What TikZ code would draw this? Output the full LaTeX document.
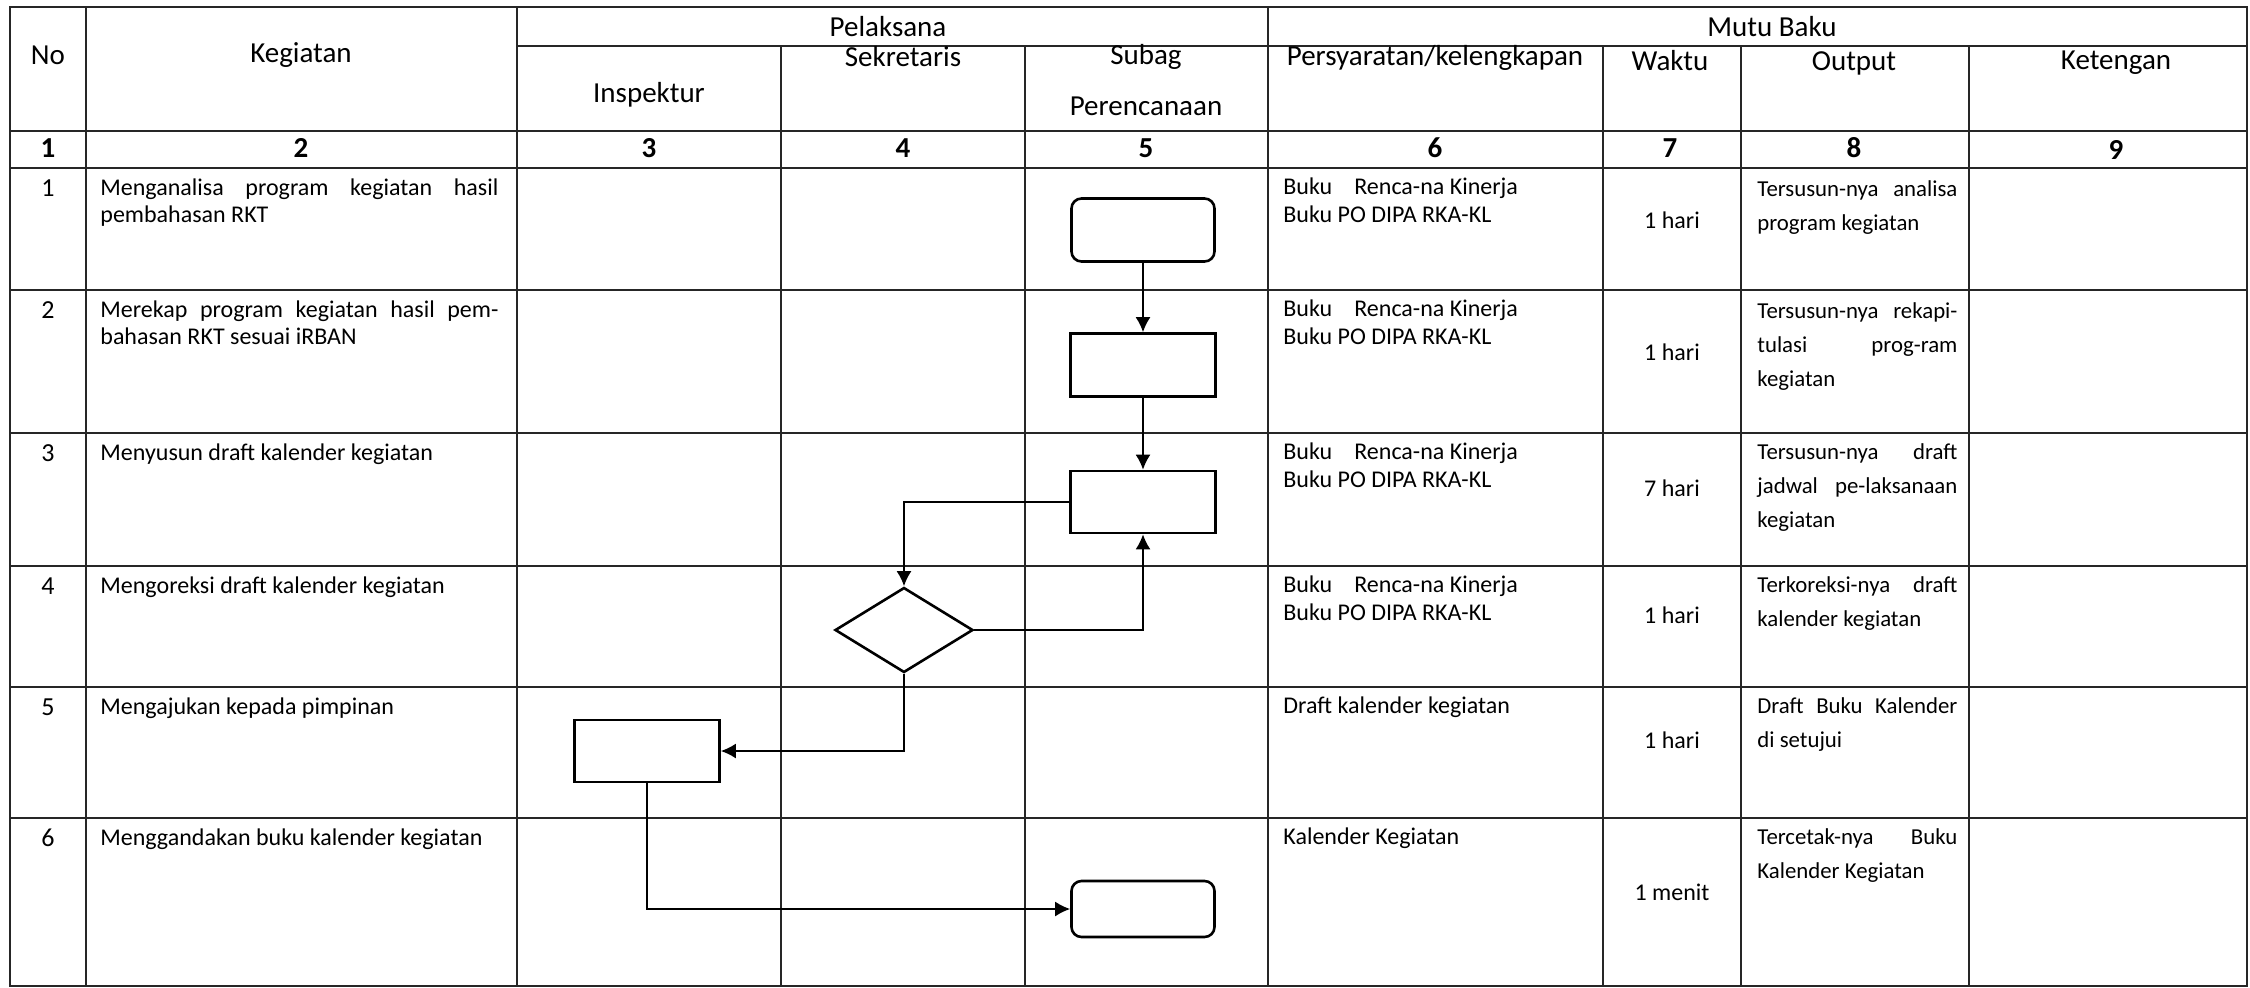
\documentclass[tikz,border=0pt]{standalone}
\usepackage{fontspec}
\setmainfont{Carlito}
\usetikzlibrary{shapes.geometric,arrows.meta}
\begin{document}
\begin{tikzpicture}[x=0.5pt,y=-0.5pt,
  grid/.style={line width=0.8pt, draw=black!85},
  hdr/.style={font=\fontsize{14.5}{17}\selectfont, inner sep=0},
  numb/.style={font=\fontsize{14.5}{17}\selectfont\bfseries, inner sep=0},
  rown/.style={font=\fontsize{13}{15}\selectfont, inner sep=0, anchor=base},
  keg/.style={font=\fontsize{12}{13.5}\selectfont, inner sep=0, anchor=base west},
  req/.style={font=\fontsize{12}{14.3}\selectfont, inner sep=0, anchor=base west},
  outp/.style={font=\fontsize{11.4}{17}\selectfont, inner sep=0, anchor=base west},
  wkt/.style={font=\fontsize{12}{13.5}\selectfont, inner sep=0},
  procbox/.style={draw, line width=1.3pt, minimum width=72.5pt, minimum height=31.5pt, inner sep=0},
  termbox/.style={draw, line width=1.3pt, rounded corners=5pt, minimum width=71.5pt, inner sep=0},
  decbox/.style={draw, line width=1.3pt, diamond, minimum width=69pt, minimum height=42.5pt, inner sep=0},
  flow/.style={line width=1pt, -{Latex[length=7.5pt,width=7.5pt]}}
]
\useasboundingbox[fill=white] (0,0) rectangle (2250,987);

% ---- table grid ----
\draw[grid] (10,7) rectangle (2247,986);
\foreach \x in {86,517,1268} \draw[grid] (\x,7) -- (\x,986);
\foreach \x in {781,1025,1603,1741,1969} \draw[grid] (\x,46) -- (\x,986);
\draw[grid] (517,46) -- (2247,46);
\foreach \y in {131,168,290,433,566,687,818} \draw[grid] (10,\y) -- (2247,\y);

% ---- header ----
\node[hdr] (hNo) at (48,55) {No};
\node[hdr] (hKeg) at (301,55) {Kegiatan};
\node[hdr] (hPel) at (888,27) {Pelaksana};
\node[hdr] (hMutu) at (1772,27) {Mutu Baku};
\node[hdr] (hIns) at (649,95) {Inspektur};
\node[hdr] (hSek) at (903,57) {Sekretaris};
\node[hdr] (hSub) at (1146,57) {Subag};
\node[hdr] (hPer) at (1146,106) {Perencanaan};
\node[hdr] (hSyar) at (1435,58) {Persyaratan/kelengkapan};
\node[hdr] (hWak) at (1670,61) {Waktu};
\node[hdr] (hOut) at (1854,63) {Output};
\node[hdr] (hKet) at (2116,63) {Ketengan};

% ---- number row ----
\node[numb] (n1) at (48,148) {1};
\node[numb] (n2) at (301,148) {2};
\node[numb] (n3) at (649,148) {3};
\node[numb] (n4) at (903,148) {4};
\node[numb] (n5) at (1146,148) {5};
\node[numb] (n6) at (1435,148) {6};
\node[numb] (n7) at (1670,148) {7};
\node[numb] (n8) at (1854,148) {8};
\node[numb] (n9) at (2116,150) {9};

% ---- row numbers ----
\node[rown] (r1) at (48,196) {1};
\node[rown] (r2) at (48,318) {2};
\node[rown] (r3) at (48,461) {3};
\node[rown] (r4) at (48,594) {4};
\node[rown] (r5) at (48,715) {5};
\node[rown] (r6) at (48,846) {6};

% ---- Kegiatan ----
\node[keg] (k1) at (100,195) {\parbox[t]{199pt}{\makebox[199pt][s]{Menganalisa program kegiatan hasil}\\pembahasan RKT}};
\node[keg] (k2) at (100,317) {\parbox[t]{199pt}{\makebox[199pt][s]{Merekap program kegiatan hasil pem-}\\bahasan RKT sesuai iRBAN}};
\node[keg] (k3) at (100,460) {Menyusun draft kalender kegiatan};
\node[keg] (k4) at (100,593) {Mengoreksi draft kalender kegiatan};
\node[keg] (k5) at (100,714) {Mengajukan kepada pimpinan};
\node[keg] (k6) at (100,845) {Menggandakan buku kalender kegiatan};

% ---- Persyaratan ----
\node[req] (q1) at (1283,194) {\parbox[t]{160pt}{Buku\hspace{0.92em}Renca-na Kinerja\\Buku PO DIPA RKA-KL}};
\node[req] (q2) at (1283,316) {\parbox[t]{160pt}{Buku\hspace{0.92em}Renca-na Kinerja\\Buku PO DIPA RKA-KL}};
\node[req] (q3) at (1283,459) {\parbox[t]{160pt}{Buku\hspace{0.92em}Renca-na Kinerja\\Buku PO DIPA RKA-KL}};
\node[req] (q4) at (1283,592) {\parbox[t]{160pt}{Buku\hspace{0.92em}Renca-na Kinerja\\Buku PO DIPA RKA-KL}};
\node[req] (q5) at (1283,713) {Draft kalender kegiatan};
\node[req] (q6) at (1283,844) {Kalender Kegiatan};

% ---- Waktu ----
\node[wkt] (w1) at (1672,220) {1 hari};
\node[wkt] (w2) at (1672,352) {1 hari};
\node[wkt] (w3) at (1672,488) {7 hari};
\node[wkt] (w4) at (1672,615) {1 hari};
\node[wkt] (w5) at (1672,740) {1 hari};
\node[wkt] (w6) at (1672,892) {1 menit};

% ---- Output ----
\node[outp] (o1) at (1757,196) {\parbox[t]{100pt}{\makebox[100pt][s]{Tersusun-nya analisa}\\program kegiatan}};
\node[outp] (o2) at (1757,318) {\parbox[t]{100pt}{\makebox[100pt][s]{Tersusun-nya rekapi-}\\\makebox[100pt][s]{tulasi prog-ram}\\kegiatan}};
\node[outp] (o3) at (1757,459) {\parbox[t]{100pt}{\makebox[100pt][s]{Tersusun-nya draft}\\\makebox[100pt][s]{jadwal pe-laksanaan}\\kegiatan}};
\node[outp] (o4) at (1757,592) {\parbox[t]{100pt}{\makebox[100pt][s]{Terkoreksi-nya draft}\\kalender kegiatan}};
\node[outp] (o5) at (1757,713) {\parbox[t]{100pt}{\makebox[100pt][s]{Draft Buku Kalender}\\di setujui}};
\node[outp] (o6) at (1757,844) {\parbox[t]{100pt}{\makebox[100pt][s]{Tercetak-nya Buku}\\Kalender Kegiatan}};

% ---- flowchart ----
\node[termbox, minimum height=31.5pt] (start) at (1143,230) {};
\node[procbox] (p2) at (1143,365) {};
\node[procbox, minimum height=31pt] (p3) at (1143,502) {};
\node[decbox] (dec) at (904,630) {};
\node[procbox, minimum height=31pt] (p5) at (647,751) {};
\node[termbox, minimum height=28pt] (stop) at (1143,909) {};

\draw[flow] (start) -- (p2);
\draw[flow] (p2) -- (p3);
\draw[flow] (p3.west) -| (dec.north);
\draw[flow] (dec.east) -| (p3.south);
\draw[flow] (dec.south) |- (p5.east);
\draw[flow] (p5.south) |- (stop.west);
\end{tikzpicture}
\end{document}
